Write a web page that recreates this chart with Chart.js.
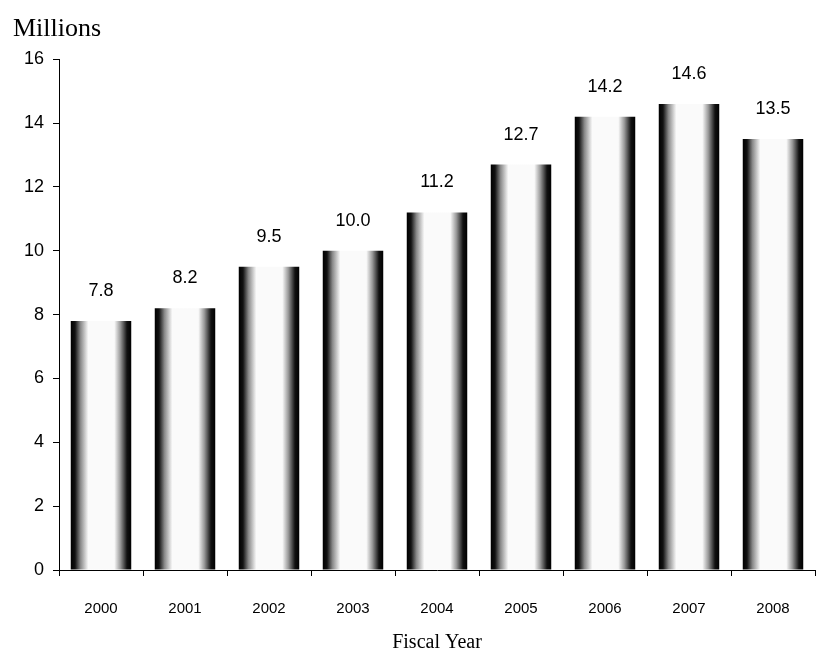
<!DOCTYPE html>
<html>
<head>
<meta charset="utf-8">
<script src="https://cdn.jsdelivr.net/npm/chart.js@4"></script>
<style>
  html, body { margin: 0; padding: 0; background: #fff; }
  #wrap { width: 818px; height: 657px; }
</style>
</head>
<body>
<div id="wrap"><canvas id="chart" width="818" height="657"></canvas></div>
<script>
// fiscal years and values (millions)
var years = ["2000", "2001", "2002", "2003", "2004", "2005", "2006", "2007", "2008"];
var millions = [7.8, 8.2, 9.5, 10.0, 11.2, 12.7, 14.2, 14.6, 13.5];
var yTicks = [0, 2, 4, 6, 8, 10, 12, 14, 16];

var BAR_PCT = 0.72;
var numFont = "'Liberation Sans Narrow', 'Liberation Sans', Arial, sans-serif";
var serifFont = "'Liberation Serif', 'DejaVu Serif', serif";

// cylinder-ish shading: dark edges, white middle
function barShade(context) {
	var chart = context.chart;
	var xs = chart.scales.x;
	if (!chart.chartArea || !xs) return "#888";
	var cx = xs.getPixelForValue(context.dataIndex);
	var w = (xs.width / years.length) * BAR_PCT;
	var g = chart.ctx.createLinearGradient(cx - w / 2, 0, cx + w / 2, 0);
	g.addColorStop(0, "#000");
	g.addColorStop(0.07, "#111");
	g.addColorStop(0.16, "#888");
	g.addColorStop(0.29, "#fafafa");
	g.addColorStop(0.72, "#fafafa");
	g.addColorStop(0.82, "#999");
	g.addColorStop(0.93, "#111");
	g.addColorStop(1, "#000");
	return g;
}

// value labels above each bar
var valueLabels = {
	id: "valueLabels",
	afterDatasetsDraw: function(chart) {
		var ctx = chart.ctx;
		var meta = chart.getDatasetMeta(0);
		ctx.save();
		ctx.font = "18px " + numFont;
		ctx.fillStyle = "#000";
		ctx.textAlign = "center";
		ctx.textBaseline = "middle";
		meta.data.forEach(function(bar, i) {
			ctx.fillText(millions[i].toFixed(1), bar.x, bar.y - 30);
		});
		ctx.restore();
	}
};

new Chart(document.getElementById("chart"), {
	type: "bar",
	data: {
		labels: years,
		datasets: [{
			data: millions,
			backgroundColor: barShade,
			borderWidth: 0,
			barPercentage: BAR_PCT,
			categoryPercentage: 1
		}]
	},
	options: {
		responsive: false,
		animation: false,
		layout: { padding: { left: 13, right: 3, top: 0, bottom: 0 } },
		plugins: {
			legend: { display: false },
			tooltip: { enabled: false },
			title: {
				display: true,
				text: "Millions",
				align: "start",
				color: "#000",
				font: { family: serifFont, size: 26, weight: "normal" },
				padding: { top: 14, bottom: 14 }
			}
		},
		scales: {
			x: {
				offset: true,
				grid: { display: true, offset: true, drawOnChartArea: false, tickLength: 6, color: "#000" },
				border: { display: true, color: "#000", width: 1 },
				ticks: { color: "#000", padding: 25, font: { family: numFont, size: 15, lineHeight: 1 } },
				title: {
					display: true,
					text: "Fiscal Year",
					color: "#000",
					font: { family: serifFont, size: 20, lineHeight: 1 },
					padding: { top: -8, bottom: 4 }
				}
			},
			y: {
				min: 0,
				max: 16,
				afterBuildTicks: function(axis) {
					axis.ticks = yTicks.map(function(v) { return { value: v }; });
				},
				afterFit: function(axis) { axis.width = 46; },
				grid: { display: true, drawOnChartArea: false, tickLength: 6, color: "#000" },
				border: { display: true, color: "#000", width: 1 },
				ticks: { color: "#000", padding: 9, font: { family: numFont, size: 18 } }
			}
		}
	},
	plugins: [valueLabels]
});
</script>
</body>
</html>
